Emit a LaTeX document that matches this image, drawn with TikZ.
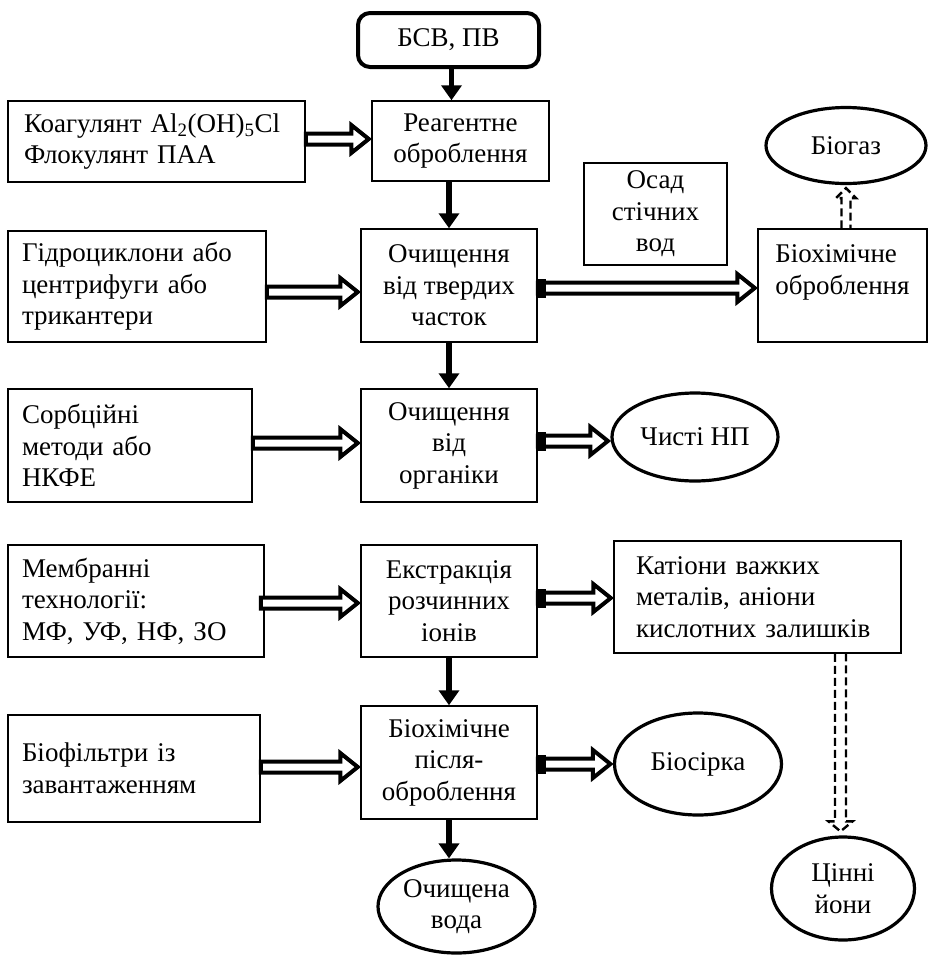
\documentclass[tikz,border=0pt]{standalone}
\usepackage{fontspec}
\setmainfont{Liberation Serif}
\usetikzlibrary{arrows.meta,calc,shapes.geometric}
\newcommand{\hollowArrow}[3]{%
  \draw[hollow] let \p1=(#1), \p2=(#2), \p3=(0,#3) in
    (\x1,\y3+5.5pt) -- (\x2-20pt,\y3+5.5pt) -- (\x2-20pt,\y3+14pt) -- (\x2-2.5pt,\y3)
    -- (\x2-20pt,\y3-14pt) -- (\x2-20pt,\y3-5.5pt) -- (\x1,\y3-5.5pt) -- cycle;}
\newcommand{\tailArrow}[3]{%
  \hollowArrow{#1}{#2}{#3}%
  \fill let \p1=(#1), \p3=(0,#3) in (\x1,\y3-9.5pt) rectangle (\x1+8pt,\y3+9.5pt);}
\begin{document}
\begin{tikzpicture}[x=1pt,y=-1pt,
  every node/.style={font=\fontsize{27}{31.5}\selectfont, inner sep=0pt},
  cbox/.style={draw, line width=1.5pt, align=center},
  lbox/.style={draw, line width=1.5pt, align=left},
  oval/.style={draw, ellipse, line width=3.2pt, align=center},
  solidarrow/.style={line width=5.5pt, -{Triangle[length=15pt,width=20pt]}},
  hollow/.style={line width=4pt, fill=white, line join=miter},
  dasharrow/.style={line width=2.4pt, dash pattern=on 8pt off 4pt},
]
\useasboundingbox (0,0) rectangle (931,962);

% centre column
\node[draw, line width=4pt, rounded corners=12pt, minimum width=181pt, minimum height=54pt] (bsv) at (448.5,40) {БСВ, ПВ};
\node[cbox, minimum width=177pt, minimum height=80pt] (reag) at (460.5,141) {Реагентне\\оброблення};
\node[cbox, minimum width=176pt, minimum height=113pt] (solid) at (449,285.5) {Очищення\\від твердих\\часток};
\node[cbox, minimum width=176pt, minimum height=113pt] (org) at (449,445.5) {Очищення\\від\\органіки};
\node[cbox, minimum width=176pt, minimum height=112pt] (extr) at (449,601) {Екстракція\\розчинних\\іонів};
\node[cbox, minimum width=176pt, minimum height=113pt] (post) at (449,762.5) {Біохімічне\\після-\\оброблення};
\node[oval, minimum width=157pt, minimum height=93pt] (voda) at (456.5,906.5) {Очищена\\вода};

% left column
\node[lbox, text width=265pt, inner xsep=16pt, minimum height=81pt] (coag) at (156.5,141.5) {Коагулянт Al\textsubscript{2}(OH)\textsubscript{5}Cl\\Флокулянт ПАА};
\node[lbox, text width=230pt, inner xsep=14pt, minimum height=111pt] (hydro) at (137,286.5) {Гідроциклони або\\центрифуги або\\трикантери};
\node[lbox, text width=216pt, inner xsep=14pt, minimum height=113pt] (sorb) at (130,445.5) {Сорбційні\\методи або\\НКФЕ};
\node[lbox, text width=228pt, inner xsep=14pt, minimum height=112pt] (memb) at (136,601) {Мембранні\\технології:\\МФ, УФ, НФ, ЗО};
\node[lbox, text width=224pt, inner xsep=14pt, minimum height=107pt] (biof) at (134,768.5) {Біофільтри із\\завантаженням};

% right side
\node[cbox, minimum width=143pt, minimum height=102pt] (osad) at (655.5,214) {Осад\\стічних\\вод};
\node[lbox, minimum width=169pt, minimum height=113pt] (biochem) at (842.5,285.5) {Біохімічне\\оброблення\\\mbox{}};
\node[oval, minimum width=160pt, minimum height=76pt] (biogas) at (846,145.5) {Біогаз};
\node[oval, minimum width=166pt, minimum height=88pt] (chisti) at (695,437) {Чисті НП};
\node[lbox, text width=243pt, inner xsep=22pt, minimum height=112pt] (cations) at (757.5,597) {Катіони важких\\металів, аніони\\кислотних залишків};
\node[oval, minimum width=167pt, minimum height=102pt] (biosirka) at (698,764) {Біосірка};
\node[oval, minimum width=143pt, minimum height=103pt] (cinni) at (843,888.5) {Цінні\\йони};

% solid arrows
\draw[solidarrow] ($(bsv.south)+(3,0)$) -- ($(bsv.south |- reag.north)+(3,0)$);
\draw[solidarrow] (solid.north |- reag.south) -- (solid.north);
\draw[solidarrow] (solid.south) -- (org.north);
\draw[solidarrow] (extr.south) -- (post.north);
\draw[solidarrow] (post.south) -- (post.south |- voda.north);

% hollow arrows
\hollowArrow{coag.east}{reag.west}{139}
\hollowArrow{hydro.east}{solid.west}{292}
\hollowArrow{sorb.east}{org.west}{443}
\hollowArrow{$(memb.east)+(-4,0)$}{extr.west}{603}
\hollowArrow{biof.east}{post.west}{767}
\tailArrow{solid.east}{biochem.west}{288}
\tailArrow{org.east}{chisti.west}{441}
\tailArrow{extr.east}{cations.west}{598}
\tailArrow{post.east}{biosirka.west}{764}

% dashed arrows
\draw[dasharrow] let \p1=(biogas.south |- biochem.north), \p2=(biogas.south) in
  (\x1-4.5pt,\y1) -- (\x1-4.5pt,\y2-13pt) -- (\x1-10pt,\y2-13pt) -- (\x1,\y2-3pt)
  -- (\x1+10pt,\y2-13pt) -- (\x1+4.5pt,\y2-13pt) -- (\x1+4.5pt,\y1);
\draw[dasharrow] let \p1=($(cinni.north |- cations.south)+(-2.5,0)$), \p2=(cinni.north) in
  (\x1-5.5pt,\y1) -- (\x1-5.5pt,\y2+14pt) -- (\x1-12pt,\y2+14pt) -- (\x1,\y2+4pt)
  -- (\x1+12pt,\y2+14pt) -- (\x1+5.5pt,\y2+14pt) -- (\x1+5.5pt,\y1);
\end{tikzpicture}
\end{document}
